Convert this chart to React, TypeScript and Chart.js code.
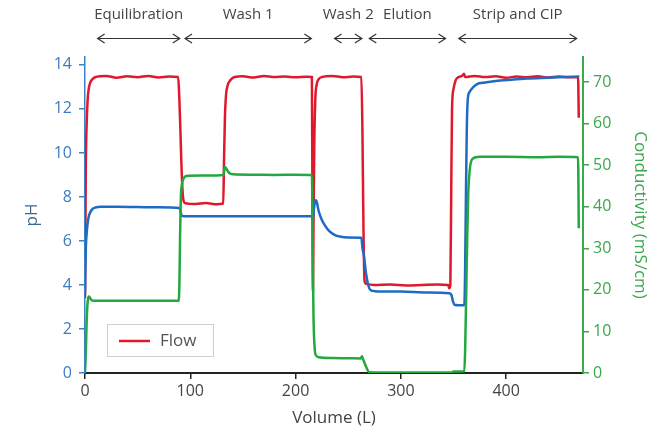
import React, { useEffect, useRef } from 'react';
import { Chart, registerables } from 'chart.js';

Chart.register(...registerables);

// Flow (drawn against the pH scale)
const flowVolume = [0, 0.4, 0.8, 1.5, 2.5, 3.5, 5, 7, 10, 20, 30, 40, 50, 60, 70, 80, 88.5, 89.5, 90.5, 91.5, 92.5, 93.5, 95, 105, 115, 125, 131.3, 132.1, 132.9, 133.9, 135.4, 138, 142, 150, 160, 170, 180, 190, 200, 210, 215.5, 216, 216.5, 217, 217.8, 218.8, 220, 222, 225, 235, 245, 255, 262.5, 263.5, 264.5, 265.5, 267, 275, 290, 305, 320, 335, 345, 346, 347, 347.8, 348.6, 350, 352, 355, 358, 360, 361, 370, 380, 390, 400, 410, 420, 430, 440, 450, 460, 468.3, 469];
const flowValue = [3.4, 6.5, 9.5, 11.2, 12.4, 12.9, 13.2, 13.35, 13.45, 13.5, 13.42, 13.48, 13.44, 13.5, 13.43, 13.47, 13.45, 12.6, 11.2, 9.6, 8.4, 7.85, 7.72, 7.68, 7.72, 7.67, 7.7, 9.8, 11.6, 12.6, 13.05, 13.3, 13.45, 13.48, 13.43, 13.5, 13.45, 13.47, 13.44, 13.46, 13.45, 8, 3.75, 6.5, 10.5, 12.5, 13.1, 13.35, 13.45, 13.5, 13.44, 13.47, 13.45, 11, 6.5, 4.2, 4.05, 4.0, 4.02, 3.98, 4.0, 4.02, 4.0, 3.85, 4.0, 8, 12, 12.9, 13.3, 13.45, 13.5, 13.6, 13.45, 13.5, 13.45, 13.48, 13.42, 13.47, 13.44, 13.48, 13.43, 13.47, 13.44, 13.45, 11.6];

// pH
const phVolume = [0, 0.4, 0.8, 1.5, 2.5, 3.5, 5, 7, 10, 15, 30, 50, 70, 89.5, 90.5, 91.5, 92.5, 100, 130, 160, 190, 215.5, 216.5, 217.5, 219, 220, 222, 225, 228, 232, 237, 242, 250, 262.5, 263.5, 265, 267, 269, 271, 275, 300, 325, 346, 348, 349.5, 351, 355, 360.3, 361, 361.8, 362.6, 363.5, 365, 368, 372, 380, 390, 405, 420, 440, 455, 469.5];
const phValue = [3.6, 4.8, 5.7, 6.3, 6.8, 7.1, 7.3, 7.45, 7.52, 7.55, 7.55, 7.54, 7.53, 7.5, 7.4, 7.2, 7.13, 7.12, 7.12, 7.12, 7.12, 7.12, 7.0, 7.5, 7.85, 7.8, 7.35, 6.95, 6.7, 6.45, 6.28, 6.2, 6.16, 6.15, 5.7, 5.3, 4.5, 4.0, 3.78, 3.72, 3.7, 3.66, 3.62, 3.55, 3.25, 3.1, 3.08, 3.08, 4.5, 8, 11, 12.4, 12.75, 12.95, 13.12, 13.2, 13.27, 13.33, 13.38, 13.42, 13.45, 13.47];

// Conductivity (mS/cm)
const condVolume = [0, 0.8, 1.5, 2.5, 3.3, 4.5, 6, 9, 20, 40, 60, 80, 89, 89.7, 90.3, 91, 92, 93.5, 96.5, 110, 125, 131.5, 132.8, 134.5, 137, 141, 160, 180, 200, 215.5, 216.3, 217, 218, 219.5, 222, 235, 250, 262, 263, 264, 267, 270, 300, 340, 348, 350, 360.3, 361, 362, 363, 364, 365.5, 368, 375, 400, 430, 450, 468.3, 469];
const condValue = [0, 5, 12, 17, 18.4, 18.2, 17.6, 17.35, 17.4, 17.35, 17.4, 17.4, 17.4, 22, 33, 42, 45.3, 46.7, 47.4, 47.5, 47.5, 47.6, 49.6, 49.0, 48.1, 47.8, 47.7, 47.65, 47.7, 47.6, 30, 14, 6.5, 4.2, 3.8, 3.6, 3.55, 3.5, 4.0, 3.4, 1.5, 0.2, 0.1, 0.1, 0.1, 0.35, 0.4, 5, 18, 32, 43, 49, 51.5, 52.0, 52.0, 51.9, 52.0, 51.9, 34.8];

// Process phases (volume range of each arrow)
const phaseLabels = ['Equilibration', 'Wash 1', 'Wash 2', 'Elution', 'Strip and CIP'];
const phaseStart = [12, 95, 237, 270, 355];
const phaseEnd = [90, 215, 263, 342.5, 467];

const legendLabel = 'Flow';

const RED = '#e0182d';
const BLUE = '#1f6bc4';
const GREEN = '#22a83f';
const FONT = '"Open Sans", "Noto Sans", sans-serif';

const toPoints = (xs: number[], ys: number[]) => xs.map((x, i) => ({ x, y: ys[i] }));

const overlayPlugin = {
  id: 'overlay',
  afterDraw(chart: any) {
    const { ctx, chartArea } = chart;
    const xs = chart.scales.x;
    ctx.save();
    // phase arrows
    ctx.strokeStyle = '#333';
    ctx.lineWidth = 1.2;
    ctx.fillStyle = '#444';
    ctx.font = `15px ${FONT}`;
    ctx.textAlign = 'center';
    ctx.textBaseline = 'middle';
    phaseLabels.forEach((lab, i) => {
      const x1 = xs.getPixelForValue(phaseStart[i]);
      const x2 = xs.getPixelForValue(phaseEnd[i]);
      const y = 38.5;
      ctx.beginPath();
      ctx.moveTo(x1, y);
      ctx.lineTo(x2, y);
      ctx.moveTo(x1 + 7, y - 4.5);
      ctx.lineTo(x1, y);
      ctx.lineTo(x1 + 7, y + 4.5);
      ctx.moveTo(x2 - 7, y - 4.5);
      ctx.lineTo(x2, y);
      ctx.lineTo(x2 - 7, y + 4.5);
      ctx.stroke();
      ctx.fillText(lab, (x1 + x2) / 2, 15);
    });
    // legend box
    const bx = chartArea.left + 22;
    const by = chartArea.bottom - 49;
    const bw = 106;
    const bh = 32;
    ctx.fillStyle = '#ffffff';
    ctx.fillRect(bx, by, bw, bh);
    ctx.strokeStyle = '#cfcfcf';
    ctx.lineWidth = 1;
    ctx.strokeRect(bx + 0.5, by + 0.5, bw, bh);
    ctx.strokeStyle = RED;
    ctx.lineWidth = 2.5;
    ctx.beginPath();
    ctx.moveTo(bx + 12, by + 17);
    ctx.lineTo(bx + 43, by + 17);
    ctx.stroke();
    ctx.fillStyle = '#555';
    ctx.font = `17px ${FONT}`;
    ctx.textAlign = 'left';
    ctx.fillText(legendLabel, bx + 53, by + 17);
    ctx.restore();
  },
};

export default function App() {
  const ref = useRef<HTMLCanvasElement | null>(null);
  useEffect(() => {
    if (!ref.current) return;
    const chart = new Chart(ref.current, {
      type: 'line',
      data: {
        datasets: [
          {
            label: 'Conductivity',
            data: toPoints(condVolume, condValue),
            borderColor: GREEN,
            borderWidth: 2.5,
            pointRadius: 0,
            cubicInterpolationMode: 'monotone',
            yAxisID: 'y2',
          },
          {
            label: 'pH',
            data: toPoints(phVolume, phValue),
            borderColor: BLUE,
            borderWidth: 2.5,
            pointRadius: 0,
            cubicInterpolationMode: 'monotone',
            yAxisID: 'y',
          },
          {
            label: 'Flow',
            data: toPoints(flowVolume, flowValue),
            borderColor: RED,
            borderWidth: 2.5,
            pointRadius: 0,
            cubicInterpolationMode: 'monotone',
            yAxisID: 'y',
          },
        ],
      } as any,
      options: {
        animation: false,
        responsive: true,
        maintainAspectRatio: false,
        parsing: true,
        layout: { padding: { top: 57, left: 0, right: 0, bottom: 0 } },
        plugins: { legend: { display: false }, tooltip: { enabled: false } },
        scales: {
          x: {
            type: 'linear',
            min: 0,
            max: 473,
            ticks: { stepSize: 100, includeBounds: false, color: '#444', font: { family: FONT, size: 16 }, padding: 3 },
            grid: { drawOnChartArea: false, drawTicks: true, tickLength: 6, color: '#222', lineWidth: 1.5 },
            border: { color: '#222', width: 2 },
            title: { display: true, text: 'Volume (L)', color: '#444', font: { family: FONT, size: 17 }, padding: { top: 0, bottom: 5 } },
            afterFit: (s: any) => { s.height = 60; },
          },
          y: {
            type: 'linear',
            position: 'left',
            min: 0,
            max: 14.36,
            ticks: { stepSize: 2, includeBounds: false, color: '#3d7cbf', font: { family: FONT, size: 16 }, padding: 7 },
            grid: { drawOnChartArea: false, drawTicks: true, tickLength: 6, color: '#3b82c8', lineWidth: 1.5 },
            border: { color: '#3b82c8', width: 1.5 },
            title: { display: true, text: 'pH', color: '#3f6690', font: { family: FONT, size: 17 }, padding: { top: 22, bottom: 0 } },
            afterFit: (s: any) => { s.width = 85; },
          },
          y2: {
            type: 'linear',
            position: 'right',
            min: 0,
            max: 76,
            ticks: { stepSize: 10, includeBounds: false, color: '#3aa84c', font: { family: FONT, size: 16 }, padding: 4 },
            grid: { drawOnChartArea: false, drawTicks: true, tickLength: 6, color: '#3aaa4c', lineWidth: 1.5 },
            border: { color: '#3aaa4c', width: 2 },
            title: { display: true, text: 'Conductivity (mS/cm)', color: '#3aa84c', font: { family: FONT, size: 17 }, padding: { top: 19, bottom: 0 } },
            afterFit: (s: any) => { s.width = 86; },
          },
        },
      } as any,
      plugins: [overlayPlugin],
    });
    return () => chart.destroy();
  }, []);
  return (
    <div style={{ position: 'fixed', left: 0, top: 0, width: 669, height: 433, background: '#fff' }}>
      <canvas ref={ref} />
    </div>
  );
}
